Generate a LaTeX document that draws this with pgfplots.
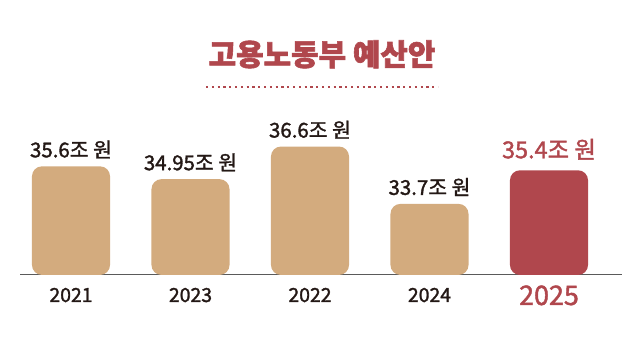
\documentclass[border=0pt]{standalone}
\usepackage{pgfplots}
\pgfplotsset{compat=1.18}
\usepackage{pgfplotstable}
\usepackage{fontspec}
\setmainfont{Noto Sans CJK KR}
\newfontfamily\medfont{Noto Sans CJK KR}[FakeBold=1.6]
\newfontfamily\heavyfont{Noto Sans CJK KR}[BoldFeatures={FakeBold=2}]
\definecolor{tanbar}{HTML}{D3AB7E}
\definecolor{redbar}{HTML}{B0474D}
\definecolor{darktxt}{HTML}{231815}
\definecolor{baseln}{HTML}{5A5A5A}

\pgfplotstableread[col sep=comma]{
x,y,label
0,35.6,35.6조 원
1,34.95,34.95조 원
2,36.6,36.6조 원
3,33.7,33.7조 원
}\tandata
\pgfplotstableread[col sep=comma]{
x,y,label
4,35.4,35.4조 원
}\reddata

\begin{document}
\begin{tikzpicture}
\useasboundingbox (0,0) rectangle (644bp,351bp);
\begin{axis}[
  at={(20bp,76bp)}, anchor=south west, scale only axis,
  width=602bp, height=274.7bp,
  xmin=-0.4268, xmax=4.611, ymin=30.1, ymax=44,
  axis x line=bottom, axis y line=none,
  axis line style={-, baseln, line width=1bp},
  xtick={0,...,4},
  xticklabels={2021,2023,2022,2024,{\raisebox{-3pt}{\color{redbar}\fontsize{27}{30}\selectfont 2025}}},
  major tick length=0pt,
  xticklabel style={anchor=base, yshift=-27bp, font=\medfont\fontsize{19.5}{22}\selectfont, text=darktxt},
  ytick=\empty,
  bar width=0.653, bar shift=0pt,
]
\addplot[ybar, fill=tanbar, draw=none, rounded corners=10bp,
  nodes near coords={\pgfplotspointmeta}, point meta=explicit symbolic,
  nodes near coords style={anchor=base, yshift=9bp, font=\medfont\fontsize{20.5}{24}\selectfont, text=darktxt, rounded corners=0pt}]
  table[x=x,y=y,meta=label]{\tandata};
\addplot[ybar, fill=redbar, draw=none, rounded corners=10bp,
  nodes near coords={\pgfplotspointmeta}, point meta=explicit symbolic,
  nodes near coords style={anchor=base, yshift=12bp, font=\medfont\fontsize{23.5}{27}\selectfont, text=redbar, rounded corners=0pt}]
  table[x=x,y=y,meta=label]{\reddata};
\end{axis}
\node[anchor=base, text=redbar, font=\heavyfont\bfseries\fontsize{30}{34}\selectfont] at (322bp,285.5bp) {고용노동부 예산안};
\draw[redbar, line width=2.2bp, dash pattern=on 2.2bp off 3.6bp] (206bp,264bp) -- (438bp,264bp);
\end{tikzpicture}
\end{document}
